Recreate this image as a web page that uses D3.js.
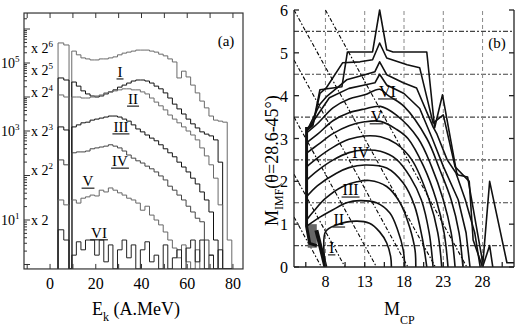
<!DOCTYPE html>
<html>
<head>
<meta charset="utf-8">
<script src="https://cdn.jsdelivr.net/npm/d3@7"></script>
<style>
body { margin: 0; background: #fff; }
svg { display: block; }
text { font-family: 'Liberation Serif', 'Times New Roman', Times, 'Nimbus Roman', 'DejaVu Serif', 'Noto Serif', serif; }
</style>
</head>
<body>
<svg width="518" height="327"></svg>
<script>
// ---------- panel (a): energy spectra, log10 of counts per bin ----------
const binEdges = [3.5, 6, 8.3, 9.5, 11.5, 13.5, 15.5, 17.5, 19.5, 21.5, 23.5, 25.5, 27.5, 29.5,
  31.5, 33.5, 35.5, 37.5, 39.5, 41.5, 43.5, 45.5, 47.5, 49.5, 51.5, 53.5, 55.5, 57.5, 59.5,
  61.5, 63.5, 65.5, 67.5, 69.5, 71.5, 73.5, 75.5, 77.5, 79.5]

const specI = [5.59, 5.53, null, 5.35, 5.24, 5.15, 5.12, 5.09, 5.09, 5.12, 5.12, 5.15, 5.18, 5.24, 5.29,
  5.32, 5.35, 5.38, 5.38, 5.38, 5.35, 5.32, 5.26, 5.21, 5.12, 5.03, 4.56, 4.76, 4.59, 4.35, 4.12,
  3.88, 3.68, 3.44, 3.32, 3.29, 3.26, 0.55]
const specII = [4.56, 4.5, null, 4.44, 4.32, 4.18, 4.09, 4.03, 4.0, 4.03, 4.09, 4.15, 4.21, 4.29, 4.35,
  4.41, 4.47, 4.5, 4.5, 4.47, 4.41, 4.32, 4.24, 4.12, 3.97, 3.79, 3.65, 3.5, 3.35, 3.21, 3.09,
  2.98, 2.93, 2.89, 2.8, 2.3, null, null]
const specIII = [4.06, 4.0, null, 4.0, 4.0, 3.97, 3.97, 4.0, 4.03, 4.06, 4.12, 4.15, 4.18, 4.21, 4.24,
  4.24, 4.21, 4.21, 4.15, 4.09, 3.97, 3.85, 3.74, 3.62, 3.47, 3.35, 3.24, 3.12, 3.0, 2.91, 2.8,
  2.62, 2.44, 2.24, 1.94, 1.34, null, null]
const specIV = [3.12, 3.03, null, 3.12, 3.18, 3.24, 3.26, 3.32, 3.35, 3.38, 3.41, 3.44, 3.44, 3.41, 3.35,
  3.29, 3.18, 3.06, 2.98, 2.91, 2.84, 2.78, 2.69, 2.6, 2.51, 2.42, 2.3, 2.19, 2.08, 1.94, 1.81,
  1.63, 1.45, 1.18, 0.55, null, null, null]
const specV = [2.35, 2.24, null, 2.51, 2.53, 2.53, 2.55, 2.6, 2.62, 2.64, 2.66, 2.69, 2.66, 2.62, 2.55,
  2.46, 2.39, 2.33, 2.28, 2.21, 2.15, 2.08, 1.99, 1.9, 1.76, 1.67, 1.56, 1.45, 1.31, 1.18, 1.04,
  0.96, 0.55, 0.21, null, null, null, null]
const specVI = [1.45, 1.34, null, 1.45, 1.38, 1.49, 1.52, 1.56, 1.54, 1.67, 1.63, 1.72, 1.67, 1.61, 1.56,
  1.49, 1.45, 1.38, 1.22, 1.31, 1.11, 1.0, 0.89, 0.73, 0.55, 0.37, 0.15, 0.44, 0.06, null, 0.33,
  null, null, null, null, null, null, null]
const specVII = [0.78, 0.55, null, 0.21, 0.51, 0.33, 0.55, 0.55, 0.21, 0.55, 0.06, 0.44, null, 0.33, 0.55,
  0.15, 0.44, null, 0.33, 0.51, 0.06, 0.21, null, 0.44, null, 0.15, 0.33, null, 0.37, 0.55, 0.06,
  0.55, null, 0.21, null, 0.33, null, null]

const multLabels = ['6', '5', '4', '3', '2', '']
const multLabelLog = [5.44, 4.79, 4.15, 3.0, 2.12, 1.0]
const xTicksA = [0, 20, 40, 60, 80]
const yTicksA = [1, 3, 5]

// ---------- panel (b): contour lines (M_CP, M_IMF) ----------
const contI = [[8,0],[8,0.82],[9.4,0.98],[11.9,1.07],[13.6,1.02],[14.9,0.82],[15.8,0.56],[16.3,0.24],[16.4,0]]
const contII = [[5.6,0.95],[7,1.13],[8.9,1.33],[10.7,1.5],[12.4,1.55],[14.5,1.5],[16.2,1.26],[17.2,0.86],[17.9,0.4],[18.1,0]]
const contIII = [[5.6,1.1],[6.5,1.3],[8,1.6],[10.2,1.88],[12,1.99],[13.6,2.02],[15.8,1.88],[17.5,1.5],[18.7,0.94],[19.4,0.4],[19.5,0]]
const contIV = [[5.6,1.64],[7,1.9],[9.4,2.19],[11,2.32],[13,2.38],[15.8,2.31],[17.9,1.96],[19.3,1.45],[20.3,0.7],[20.9,0]]
const contV = [[5.6,2.03],[7,2.25],[9,2.5],[11,2.67],[13,2.73],[15,2.7],[17,2.52],[18.8,2.1],[20.2,1.57],[21.2,0.8],[21.7,0]]
const contVI = [[5.6,2.34],[7,2.55],[9,2.8],[11,2.98],[13,3.06],[15,3.04],[17,2.88],[19,2.5],[21.2,1.57],[22.3,0.8],[22.8,0]]
const contVII = [[5.6,2.66],[7,2.85],[9,3.12],[11,3.3],[13,3.39],[15,3.4],[17,3.22],[18.5,3.0],[20.5,2.35],[22.1,1.57],[23.1,0.8],[23.6,0]]
const contVIII = [[5.6,2.9],[7,3.1],[9,3.42],[11,3.6],[13,3.69],[15,3.75],[17,3.55],[19.8,3.0],[21.5,2.35],[23,1.57],[24,0.8],[24.5,0]]
const contIX = [[5.6,3.13],[7,3.35],[9,3.72],[11,3.92],[13,4.02],[14.9,4.15],[16,4.0],[18,3.75],[20.9,3.0],[22.5,2.3],[24,1.57],[25,0.8],[25.5,0]]
const contX = [[5.7,3.2],[7,3.55],[8.5,3.95],[11,4.17],[13,4.25],[14.3,4.3],[14.9,4.5],[15.8,4.25],[18,4.05],[20,3.7],[21.6,3.0],[23,2.35],[24.9,1.57],[25.9,0.8],[26.4,0]]
const contXI = [[5.75,3.22],[7.3,3.8],[8.1,3.97],[10.7,4.37],[13,4.49],[14.3,4.56],[14.9,4.79],[15.8,4.49],[17.9,4.3],[19.6,4.18],[21.7,3.27],[22.2,3.1],[23.5,2.5],[24.6,2.2],[25.8,1.57],[27,0.8],[27.7,0]]
const contXII = [[5.75,3.2],[6.4,3.3],[7.3,4.05],[8.1,4.18],[10.2,4.77],[12.4,4.79],[14,4.84],[14.9,5.23],[15.8,4.88],[18.4,4.72],[20,4.65],[21.7,3.36],[23,3.55],[24.5,2.34],[26.3,2.0],[26.8,0.63],[28,0],[28.9,0.5],[29.3,0]]
const contXIII = [[5.75,3.25],[6.4,3.32],[7.3,4.14],[10.1,4.21],[10.8,5.02],[14,5.02],[14.9,6.0],[15.8,5.07],[16.6,5.02],[20.9,5.02],[21.9,3.25],[22.9,4.02],[24.7,2.2],[24.9,2.15],[26.1,2.1],[27.9,0.23],[28,0],[28.9,2.0],[31.1,0.1],[32,0.1]]

const diagConst = [7.5, 10.5, 14.5, 18.5, 22, 26]   // M_CP + 3 M_IMF = const
const xTicksB = [8, 13, 18, 23, 28]
const yTicksB = [0, 1, 2, 3, 4, 5, 6]

const svg = d3.select('svg')

// ===== panel (a) =====
const xA = d3.scaleLinear().domain([-11.4, 84.4]).range([24, 243])
const yA = d3.scaleLinear().domain([1, 3, 5]).range([220, 131, 63])
const LBOT = -0.1, LTOP = 6.47

svg.append('clipPath').attr('id', 'clipA').append('rect')
  .attr('x', xA(-11.4)).attr('y', yA(LTOP))
  .attr('width', xA(84.4) - xA(-11.4)).attr('height', yA(LBOT) - yA(LTOP))

const stepLine = d3.line()
  .x(d => xA(d[0]))
  .y(d => yA(d[1] == null ? LBOT : Math.max(d[1], LBOT)))
  .curve(d3.curveStepAfter)

function stepPoints(vals) {
  const pts = [[binEdges[0], null]]
  vals.forEach((v, i) => pts.push([binEdges[i], v]))
  pts.push([binEdges[binEdges.length - 1], null])
  return pts
}

const specColors = ['#6a6a6a', '#111', '#6a6a6a', '#111', '#444', '#666', '#222']
svg.append('g').attr('clip-path', 'url(#clipA)')
  .selectAll('path')
  .data([specI, specII, specIII, specIV, specV, specVI, specVII])
  .enter()
  .append('path')
  .attr('d', d => stepLine(stepPoints(d)))
  .attr('fill', 'none')
  .attr('stroke', (d, i) => specColors[i])
  .attr('stroke-width', 1)

// frame
svg.append('rect')
  .attr('x', xA(-11.4)).attr('y', yA(LTOP))
  .attr('width', xA(84.4) - xA(-11.4)).attr('height', yA(LBOT) - yA(LTOP))
  .attr('fill', 'none').attr('stroke', '#333').attr('stroke-width', 1.2)

const axA = svg.append('g').attr('stroke', '#333')
for (let e = -10; e <= 80; e += 10) {
  axA.append('line').attr('x1', xA(e)).attr('x2', xA(e)).attr('y1', yA(LBOT)).attr('y2', yA(LBOT) - 5)
  axA.append('line').attr('x1', xA(e)).attr('x2', xA(e)).attr('y1', yA(LTOP)).attr('y2', yA(LTOP) + 5)
}
for (let n = 0; n <= 6; n++) {
  for (let k = 1; k <= 9; k++) {
    const v = n + Math.log10(k)
    if (v < LBOT || v > LTOP) continue
    axA.append('line').attr('x1', xA(-11.4)).attr('x2', xA(-11.4) + (k === 1 ? 6 : 3))
      .attr('y1', yA(v)).attr('y2', yA(v))
  }
}

svg.append('g').selectAll('text').data(xTicksA).enter().append('text')
  .attr('x', d => xA(d)).attr('y', 289).attr('text-anchor', 'middle')
  .attr('font-size', 16).text(d => d)

const yLab = svg.append('g').selectAll('text').data(yTicksA).enter().append('text')
  .attr('x', 1).attr('y', d => yA(d) + 5).attr('font-size', 14)
yLab.append('tspan').text('10')
yLab.append('tspan').attr('dy', -6).attr('font-size', 9).text(d => d)

const mult = svg.append('g').selectAll('text').data(multLabels).enter().append('text')
  .attr('x', 31).attr('y', (d, i) => yA(multLabelLog[i]) + 5).attr('font-size', 14)
mult.append('tspan').text('x 2')
mult.append('tspan').attr('dy', -6).attr('font-size', 9).text(d => d)

const xTitle = svg.append('text').attr('x', 92).attr('y', 315).attr('font-size', 18)
xTitle.append('tspan').text('E')
xTitle.append('tspan').attr('dy', 6).attr('font-size', 12).text('k')
xTitle.append('tspan').attr('dy', -6).text(' (A.MeV)')

svg.append('text').attr('x', 226).attr('y', 46).attr('text-anchor', 'middle')
  .attr('font-size', 15).text('(a)')

function romanLabel(x, y, t, size) {
  const txt = svg.append('text').attr('x', x).attr('y', y).attr('text-anchor', 'middle')
    .attr('font-size', size).text(t)
  const w = txt.node().getComputedTextLength()
  svg.append('line').attr('x1', x - w / 2 - 1).attr('x2', x + w / 2 + 1)
    .attr('y1', y + 2).attr('y2', y + 2).attr('stroke', '#222').attr('stroke-width', 1.2)
}
romanLabel(xA(30.6), yA(4.59), 'I', 15)
romanLabel(xA(36.3), yA(3.79), 'II', 15)
romanLabel(xA(31.0), yA(2.98), 'III', 15)
romanLabel(xA(30.6), yA(2.21), 'IV', 15)
romanLabel(xA(16.6), yA(1.76), 'V', 15)
romanLabel(xA(21.4), yA(0.6), 'VI', 15)

// ===== panel (b) =====
const xB = d3.scaleLinear().domain([4, 32]).range([294, 514])
const yB = d3.scaleLinear().domain([0, 6]).range([267, 10])

svg.append('clipPath').attr('id', 'clipB').append('rect')
  .attr('x', xB(4)).attr('y', yB(6.1)).attr('width', xB(32) - xB(4)).attr('height', yB(0) - yB(6.1))

const gB = svg.append('g').attr('clip-path', 'url(#clipB)')

// grid
gB.selectAll('line.hg').data([0.5, 1.5, 2.5, 3.5, 4.5, 5.5]).enter().append('line')
  .attr('x1', xB(4)).attr('x2', xB(32)).attr('y1', d => yB(d)).attr('y2', d => yB(d))
  .attr('stroke', '#444').attr('stroke-width', 1.1).attr('stroke-dasharray', '5,2,2,2')
gB.selectAll('line.vg').data(xTicksB).enter().append('line')
  .attr('x1', d => xB(d)).attr('x2', d => xB(d)).attr('y1', yB(0)).attr('y2', yB(6))
  .attr('stroke', '#888').attr('stroke-width', 1).attr('stroke-dasharray', '4,3')

// diagonal dash-dot lines
gB.selectAll('line.dg').data(diagConst).enter().append('line')
  .attr('x1', d => xB(Math.max(4, d - 18))).attr('y1', d => yB(Math.min(6, (d - 4) / 3)))
  .attr('x2', d => xB(d)).attr('y2', yB(0))
  .attr('stroke', '#000').attr('stroke-width', 1.1).attr('stroke-dasharray', '4,2,1.5,2')

// dense ridge at low multiplicity
gB.append('rect').attr('x', xB(5.75)).attr('y', yB(1.0))
  .attr('width', xB(6.9) - xB(5.75)).attr('height', yB(0.45) - yB(1.0)).attr('fill', '#666')
gB.append('path').attr('d', d3.line().x(d => xB(d[0])).y(d => yB(d[1]))([[5.6, 3.27], [5.6, 0.95], [6.0, 0.55], [6.9, 0.5]]))
  .attr('fill', 'none').attr('stroke', '#111').attr('stroke-width', 3)
gB.append('path').attr('d', d3.line().x(d => xB(d[0])).y(d => yB(d[1]))([[6.85, 0.86], [8, 0]]))
  .attr('fill', 'none').attr('stroke', '#111').attr('stroke-width', 4)

const smooth = d3.line().x(d => xB(d[0])).y(d => yB(d[1])).curve(d3.curveCatmullRom.alpha(0.5))
const sharp = d3.line().x(d => xB(d[0])).y(d => yB(d[1]))
const contours = [contI, contII, contIII, contIV, contV, contVI, contVII, contVIII, contIX, contX, contXI, contXII, contXIII]
gB.selectAll('path.c').data(contours).enter().append('path')
  .attr('d', (d, i) => i < 9 ? smooth(d) : sharp(d))
  .attr('fill', 'none').attr('stroke', '#111').attr('stroke-width', 1.6)
  .attr('stroke-linejoin', 'round')

// axes frame (no top line)
const axB = svg.append('g').attr('stroke', '#222').attr('stroke-width', 1.3)
axB.append('line').attr('x1', xB(4)).attr('x2', xB(4)).attr('y1', yB(6)).attr('y2', yB(0))
axB.append('line').attr('x1', xB(32)).attr('x2', xB(32)).attr('y1', yB(6)).attr('y2', yB(0))
axB.append('line').attr('x1', xB(4)).attr('x2', xB(32)).attr('y1', yB(0)).attr('y2', yB(0))
yTicksB.forEach(v => {
  axB.append('line').attr('x1', xB(4)).attr('x2', xB(4) + 5).attr('y1', yB(v)).attr('y2', yB(v))
  axB.append('line').attr('x1', xB(32)).attr('x2', xB(32) - 5).attr('y1', yB(v)).attr('y2', yB(v))
})
for (let m = 5.5; m < 32; m += 2.5) {
  axB.append('line').attr('x1', xB(m)).attr('x2', xB(m)).attr('y1', yB(0)).attr('y2', yB(0) - 5)
}

svg.append('g').selectAll('text').data(xTicksB).enter().append('text')
  .attr('x', d => xB(d)).attr('y', 287).attr('text-anchor', 'middle').attr('font-size', 16).text(d => d)
svg.append('g').selectAll('text').data(yTicksB).enter().append('text')
  .attr('x', 288).attr('y', d => yB(d) + 6).attr('text-anchor', 'end').attr('font-size', 16).text(d => d)

const xTitleB = svg.append('text').attr('x', 384).attr('y', 315).attr('font-size', 18)
xTitleB.append('tspan').text('M')
xTitleB.append('tspan').attr('dy', 9).attr('font-size', 12).text('CP')

const yTitleB = svg.append('text').attr('transform', 'translate(278,226) rotate(-90)').attr('font-size', 18)
yTitleB.append('tspan').text('M')
yTitleB.append('tspan').attr('dy', 5).attr('font-size', 12).text('IMF')
yTitleB.append('tspan').attr('dy', -5).text('(θ=28.6-45°)')

svg.append('text').attr('x', 497).attr('y', 48).attr('text-anchor', 'middle')
  .attr('font-size', 15).text('(b)')

romanLabel(xB(8.8), yB(0.33), 'I', 16)
romanLabel(xB(9.7), yB(0.98), 'II', 16)
romanLabel(xB(11.2), yB(1.68), 'III', 16)
romanLabel(xB(12.5), yB(2.55), 'IV', 16)
romanLabel(xB(14.5), yB(3.39), 'V', 16)
romanLabel(xB(15.9), yB(3.97), 'VI', 16)
</script>
</body>
</html>
